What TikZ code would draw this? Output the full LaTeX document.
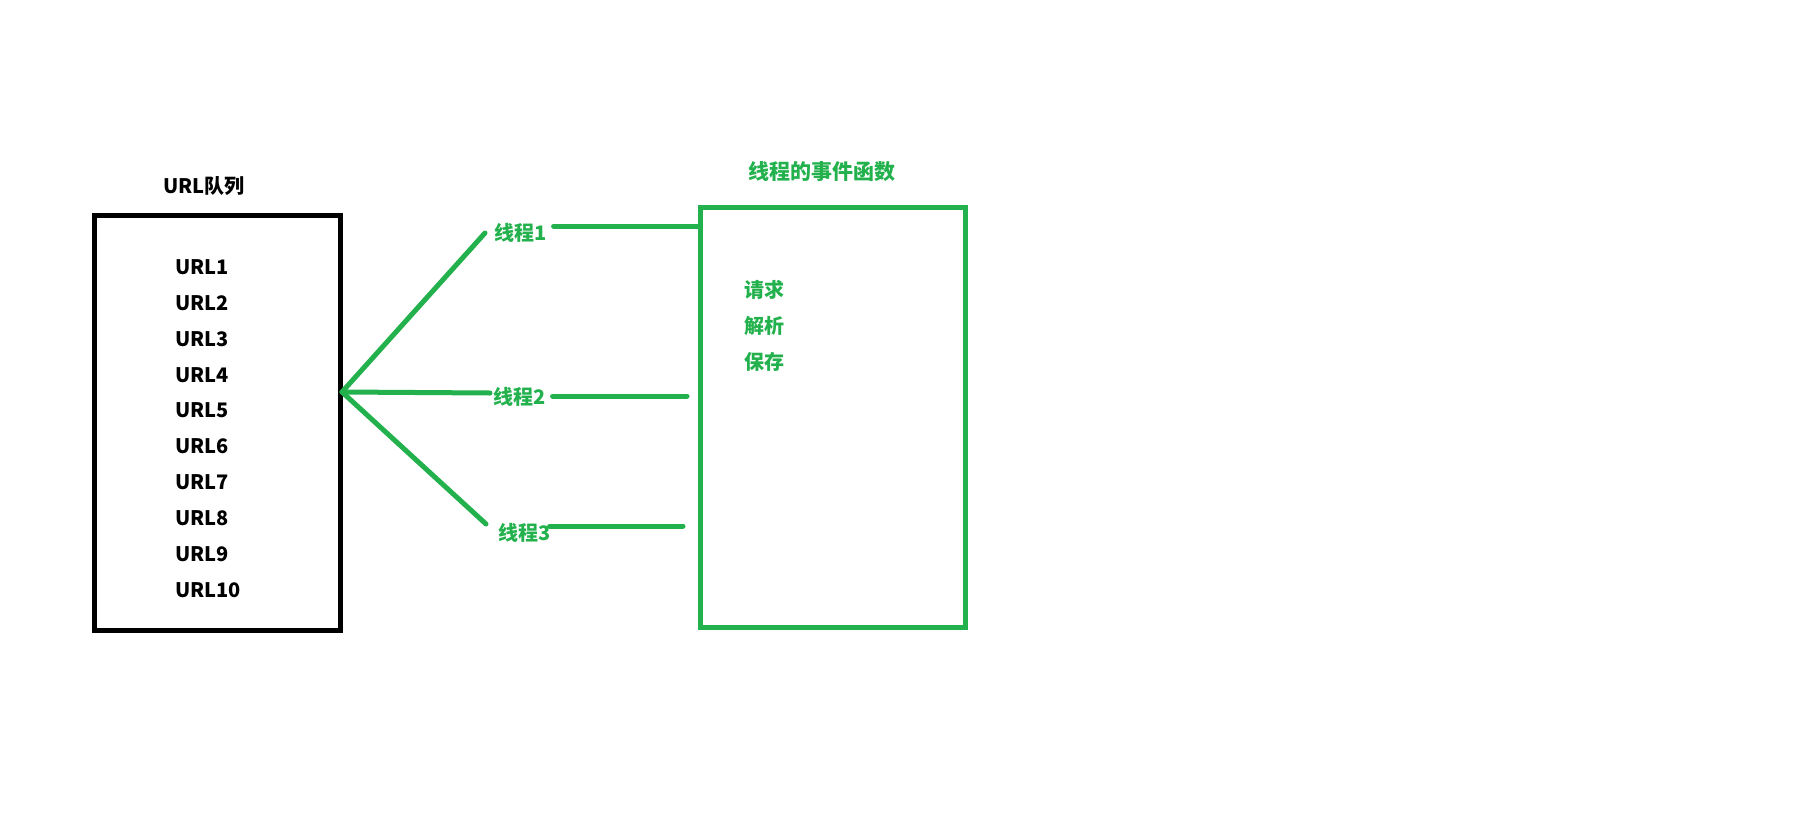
\documentclass[tikz,border=0pt]{standalone}
\usepackage{fontspec}
\setmainfont{Noto Sans CJK SC}
\usetikzlibrary{positioning}
\definecolor{paintGreen}{HTML}{22B14C}

\begin{document}
\begin{tikzpicture}[x=1pt,y=-1pt,
      lbl/.style={font=\fontsize{20}{22}\selectfont\bfseries,inner sep=0pt},
      thread/.style={lbl,text=paintGreen},
      wire/.style={paintGreen,line width=5pt,line cap=round}]
    \useasboundingbox (0,0) rectangle (1797,833);

    % URL queue
    \node[draw,line width=5pt,minimum width=246pt,minimum height=415pt,inner sep=0pt]
      (queue) at (217,422.5) {};
    \node[lbl] (qtitle) at (204,186) {URL队列};
    \foreach \i in {1,...,10}
      \node[lbl,anchor=west] (url\i) at (175,{267+35.9*(\i-1)}) {URL\i};

    % event function box
    \node[draw=paintGreen,line width=5pt,minimum width=265pt,minimum height=420pt,inner sep=0pt]
      (func) at (832.5,417) {};
    \node[thread,font=\fontsize{21}{23}\selectfont\bfseries] (ftitle) at (822,172) {线程的事件函数};
    \node[thread,anchor=west] (req) at (744,290) {请求};
    \node[thread,anchor=west] (parse) at (744,326) {解析};
    \node[thread,anchor=west] (save) at (744,362) {保存};

    % threads
    \node[thread,anchor=west] (t1) at (494,233) {线程1};
    \node[thread,anchor=west] (t2) at (493,397) {线程2};
    \node[thread,anchor=west] (t3) at (498,533) {线程3};

    \coordinate (fan) at (342,392);
    \coordinate (e2) at (687,396);
    \coordinate (e3) at (683,526);

    \draw[wire] (fan) -- ([xshift=-9pt]t1.west);
    \draw[wire] (fan) -- ([xshift=-3pt,yshift=4pt]t2.west);
    \draw[wire] (fan) -- ([xshift=-12pt,yshift=9pt]t3.west);

    \draw[wire] ([xshift=7pt,yshift=7pt]t1.east) -- (func.west |- {(0,226)});
    \draw[wire] ([xshift=7pt,yshift=1pt]t2.east) -- (e2);
    \draw[wire] ([xshift=-1pt,yshift=7pt]t3.east) -- (e3);
  \end{tikzpicture}
\end{document}
